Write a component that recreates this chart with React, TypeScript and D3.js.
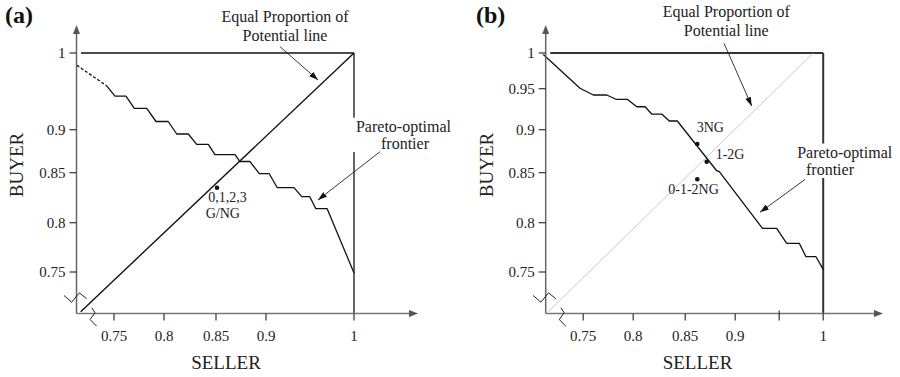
import * as d3 from 'd3';

// Tick values for the hand-drawn broken axes
const SELLER_TICKS_A = [0.75, 0.8, 0.85, 0.9, 1];
const SELLER_LABELS_A = ['0.75', '0.8', '0.85', '0.9', '1'];
const SELLER_TICKS_B = [0.75, 0.8, 0.85, 0.9, 0.95, 1];
const SELLER_LABELS_B = ['0.75', '0.8', '0.85', '0.9', '', '1'];
const BUYER_TICKS_A = [1, 0.9, 0.85, 0.8, 0.75];
const BUYER_LABELS_A = ['1', '0.9', '0.85', '0.8', '0.75'];
const BUYER_TICKS_B = [1, 0.95, 0.9, 0.85, 0.8, 0.75];
const BUYER_LABELS_B = ['1', '0.95', '0.9', '0.85', '0.8', '0.75'];

// Pareto-optimal frontier, panel (a) (first segment dashed)
const frontierSellerA = [0.7127, 0.7427, 0.751, 0.762, 0.7703, 0.7827, 0.792, 0.8041, 0.8122, 0.8234, 0.8314, 0.8426, 0.849, 0.869, 0.874, 0.884, 0.8933, 0.9037, 0.9128, 0.9318, 0.9406, 0.9498, 0.9566, 0.9695, 1.0];
const frontierBuyerA = [0.983, 0.954, 0.941, 0.941, 0.926, 0.926, 0.910, 0.910, 0.895, 0.895, 0.883, 0.883, 0.871, 0.871, 0.863, 0.863, 0.849, 0.849, 0.835, 0.835, 0.826, 0.826, 0.814, 0.814, 0.749];

// Pareto-optimal frontier, panel (b)
const frontierSellerB = [0.7101, 0.7468, 0.7601, 0.7735, 0.7828, 0.7941, 0.8034, 0.8114, 0.8178, 0.8274, 0.8347, 0.8424, 0.8815, 0.8841, 0.931, 0.9471, 0.9585, 0.9728, 0.9804, 0.9918, 1.0];
const frontierBuyerB = [0.998, 0.9506, 0.9423, 0.9423, 0.9371, 0.9371, 0.928, 0.928, 0.9191, 0.9191, 0.9106, 0.9106, 0.8523, 0.8512, 0.7943, 0.7943, 0.7791, 0.7791, 0.7655, 0.7655, 0.7527];

// Equal proportion of potential line (end points)
const equalSellerA = [0.7167, 1];
const equalBuyerA = [0.7098, 1];
const equalSellerB = [0.7151, 0.9887];
const equalBuyerB = [0.7097, 1];

// Outcomes
const outcomeNamesA = ['0,1,2,3|G/NG'];
const outcomeSellerA = [0.851];
const outcomeBuyerA = [0.835];
const outcomeNamesB = ['3NG', '1-2G', '0-1-2NG'];
const outcomeSellerB = [0.8621, 0.8715, 0.8621];
const outcomeBuyerB = [0.8834, 0.8628, 0.8434];

const FONT = '"Liberation Serif", "Times New Roman", serif';
const AXIS_Y = 313.5;
const AXIS_TOP = 25;

function Panel(props: any) {
  const { ax, xEnd, letter, letterX, xTicks, xLabels, yTicks, yLabels, fs, fb, dashN, es, eb, diagColor, diagWidth,
    boxColor, boxWidth, names, os, ob, labelOff, eq, par, buyerX, sellerX } = props;

  const x = d3.scaleLinear().domain([0.75, 0.8, 0.85, 0.9, 1]).range([37.5, 87.5, 139.5, 189.5, 277.5].map((v) => ax + v));
  const y = d3.scaleLinear().domain([0.75, 0.8, 0.85, 0.9, 0.95, 1]).range([272, 222.7, 172.7, 129.7, 88.7, 53]);
  const line = d3.line<number[]>().x((d) => x(d[0])).y((d) => y(d[1]));

  const pts = fs.map((s: number, i: number) => [s, fb[i]]);
  const dashed = pts.slice(0, dashN + 1);
  const solid = pts.slice(dashN);
  const eqPts = es.map((s: number, i: number) => [s, eb[i]]);

  return (
    <g>
      <text x={letterX} y={23} fontFamily={FONT} fontWeight="bold" fontSize={24} fill="#111">{letter}</text>
      {/* box: y = 1 and x = 1 */}
      <line x1={x(0.717)} x2={x(1)} y1={y(1)} y2={y(1)} stroke={boxColor} strokeWidth={boxWidth} />
      <line x1={x(1)} x2={x(1)} y1={y(1)} y2={AXIS_Y} stroke={boxColor} strokeWidth={boxWidth} />
      {/* equal proportion line */}
      <path d={line(eqPts) ?? ''} fill="none" stroke={diagColor} strokeWidth={diagWidth} />
      {/* frontier */}
      {dashN > 0 && <path d={line(dashed) ?? ''} fill="none" stroke="#111" strokeWidth={1.3} strokeDasharray="3,2" />}
      <path d={line(solid) ?? ''} fill="none" stroke="#111" strokeWidth={1.3} strokeLinejoin="round" />
      {/* axes */}
      <line x1={ax} x2={ax} y1={AXIS_Y} y2={AXIS_TOP + 6} stroke="#666" strokeWidth={1.5} />
      <path d={`M${ax},${AXIS_TOP} l-3.5,9 l7,0 z`} fill="#555" />
      <line x1={ax} x2={xEnd - 6} y1={AXIS_Y} y2={AXIS_Y} stroke="#777" strokeWidth={1.6} />
      <path d={`M${xEnd},${AXIS_Y} l-9,-3.5 l0,7 z`} fill="#555" />
      {/* break marks */}
      <path d={`M${ax - 12.5},${AXIS_Y - 18} L${ax - 4.8},${AXIS_Y - 11.3} L${ax + 2.8},${AXIS_Y - 20.7} L${ax + 10.2},${AXIS_Y - 14.7}`} fill="none" stroke="#222" strokeWidth={1} />
      <path d={`M${ax + 15.2},${AXIS_Y - 5.7} L${ax + 18.5},${AXIS_Y - 0.7} L${ax + 13.5},${AXIS_Y + 6} L${ax + 20.2},${AXIS_Y + 12.7}`} fill="none" stroke="#222" strokeWidth={1} />
      {xTicks.map((t: number, i: number) => (
        <g key={'x' + i}>
          <line x1={x(t)} x2={x(t)} y1={AXIS_Y - (xLabels[i] ? 0 : 3)} y2={AXIS_Y + 7} stroke="#333" strokeWidth={1.2} />
          <text x={x(t)} y={341} textAnchor="middle" fontFamily={FONT} fontSize={15} fill="#222">{xLabels[i]}</text>
        </g>
      ))}
      {yTicks.map((t: number, i: number) => (
        <g key={'y' + i}>
          <line x1={ax - 7} x2={ax} y1={y(t)} y2={y(t)} stroke="#333" strokeWidth={1.2} />
          <text x={ax - 11} y={y(t)} dy="0.35em" textAnchor="end" fontFamily={FONT} fontSize={15} fill="#222">{yLabels[i]}</text>
        </g>
      ))}
      <text transform={`translate(${buyerX},165) rotate(-90)`} dy="0.35em" textAnchor="middle" fontFamily={FONT} fontSize={19} fill="#222">BUYER</text>
      <text x={sellerX} y={369} textAnchor="middle" fontFamily={FONT} fontSize={19} fill="#222">SELLER</text>
      {/* outcomes */}
      {os.map((s: number, i: number) => {
        const parts = names[i].split('|');
        const o = labelOff[i];
        return (
          <g key={'o' + i}>
            <circle cx={x(s)} cy={y(ob[i])} r={2.3} fill="#111" />
            {parts.map((p: string, j: number) => (
              <text key={j} x={x(s) + o[2 * j]} y={y(ob[i]) + o[2 * j + 1]} fontFamily={FONT} fontSize={14} fill="#222">{p}</text>
            ))}
          </g>
        );
      })}
      {/* callouts */}
      <text x={eq.cx} y={eq.y1} textAnchor="middle" fontFamily={FONT} fontSize={16} fill="#222">Equal Proportion of</text>
      <text x={eq.cx} y={eq.y2} textAnchor="middle" fontFamily={FONT} fontSize={16} fill="#222">Potential line</text>
      <line x1={eq.a[0]} y1={eq.a[1]} x2={eq.a[2]} y2={eq.a[3]} stroke="#222" strokeWidth={0.9} markerEnd="url(#head)" />
      <rect x={par.rx} y={par.y1 - 14} width={par.rw} height={par.y2 - par.y1 + 17} fill="white" />
      <text x={par.cx1} y={par.y1} textAnchor="middle" fontFamily={FONT} fontSize={16} fill="#222">Pareto-optimal</text>
      <text x={par.cx2} y={par.y2} textAnchor="middle" fontFamily={FONT} fontSize={16} fill="#222">frontier</text>
      <line x1={par.a[0]} y1={par.a[1]} x2={par.a[2]} y2={par.a[3]} stroke="#222" strokeWidth={0.9} markerEnd="url(#head)" />
    </g>
  );
}

export default function App() {
  return (
    <svg width={900} height={377} style={{ position: 'absolute', left: 0, top: 0, background: 'white' }}>
      <defs>
        <marker id="head" viewBox="0 0 10 10" refX={10} refY={5} markerUnits="userSpaceOnUse" markerWidth={9} markerHeight={6} orient="auto" preserveAspectRatio="none">
          <path d="M0,0 L10,5 L0,10 z" fill="#111" />
        </marker>
      </defs>
      <rect width={900} height={377} fill="white" />
      <Panel
        ax={76.5} xEnd={418} letter="(a)" letterX={5}
        xTicks={SELLER_TICKS_A} xLabels={SELLER_LABELS_A} yTicks={BUYER_TICKS_A} yLabels={BUYER_LABELS_A}
        fs={frontierSellerA} fb={frontierBuyerA} dashN={1}
        es={equalSellerA} eb={equalBuyerA} diagColor="#111" diagWidth={1.4}
        boxColor="#111" boxWidth={1.3}
        names={outcomeNamesA} os={outcomeSellerA} ob={outcomeBuyerA} labelOff={[[-8.7, 14, -11.3, 30.6]]}
        eq={{ cx: 285, y1: 22.3, y2: 41, a: [280, 46.7, 318, 80] }}
        par={{ cx1: 403.5, cx2: 405, y1: 131.7, y2: 149, rx: 350, rw: 104, a: [380, 151.7, 318, 200] }}
        buyerX={16.7} sellerX={226}
      />
      <Panel
        ax={545.7} xEnd={883} letter="(b)" letterX={476}
        xTicks={SELLER_TICKS_B} xLabels={SELLER_LABELS_B} yTicks={BUYER_TICKS_B} yLabels={BUYER_LABELS_B}
        fs={frontierSellerB} fb={frontierBuyerB} dashN={0}
        es={equalSellerB} eb={equalBuyerB} diagColor="#bbb" diagWidth={0.8}
        boxColor="#333" boxWidth={2}
        names={outcomeNamesB} os={outcomeSellerB} ob={outcomeBuyerB}
        labelOff={[[-0.6, -11.7], [9, -2.4], [-29, 14.7]]}
        eq={{ cx: 726.2, y1: 16.7, y2: 36, a: [724, 43.3, 751.7, 106] }}
        par={{ cx1: 844.7, cx2: 830, y1: 157.5, y2: 175, rx: 794, rw: 104, a: [805, 179.5, 760, 212.3] }}
        buyerX={486.7} sellerX={697.5}
      />
    </svg>
  );
}
